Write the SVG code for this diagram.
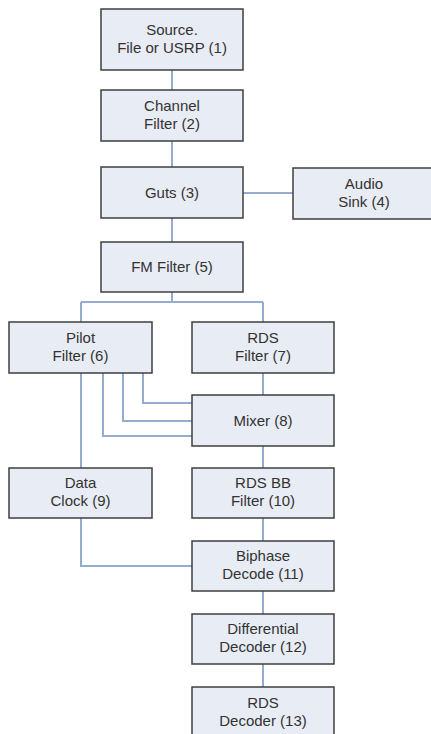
<svg xmlns="http://www.w3.org/2000/svg" width="431" height="734" viewBox="0 0 431 734">
<style>
.box{fill:#e8ecf4;stroke:#3f3f3f;stroke-width:1.5}
.t{font-family:"Liberation Sans",Arial,sans-serif;font-size:15px;fill:#333;text-anchor:middle}
.c{fill:none;stroke:#95abcf;stroke-width:2}
</style>
<rect width="431" height="734" fill="#fff"/>
<g id="connectors">
<path class="c" d="M172 70V90M172 141V167M243 193H293M172 218V242M172 292V302M81 302H263M81 302V322M263 302V322M263 373V395M143 373V403H192M123 373V421H192M103 373V436H192M81 373V468M263 446V468M263 518V541M81 518V566H192M263 591V614M263 664V687"/>
</g>
<g id="n1"><rect class="box" x="101" y="9" width="142" height="61"/><text class="t" x="172" y="34.5">Source.</text><text class="t" x="172" y="53">File or USRP (1)</text></g>
<g id="n2"><rect class="box" x="101" y="90" width="142" height="51"/><text class="t" x="172" y="110.5">Channel</text><text class="t" x="172" y="128.5">Filter (2)</text></g>
<g id="n3"><rect class="box" x="101" y="167" width="142" height="51"/><text class="t" x="172" y="197.5">Guts (3)</text></g>
<g id="n4"><rect class="box" x="293" y="168" width="142" height="51"/><text class="t" x="364" y="188.5">Audio</text><text class="t" x="364" y="206.5">Sink (4)</text></g>
<g id="n5"><rect class="box" x="101" y="242" width="142" height="50"/><text class="t" x="172" y="271.5">FM Filter (5)</text></g>
<g id="n6"><rect class="box" x="9" y="322" width="143" height="51"/><text class="t" x="80.5" y="342.5">Pilot</text><text class="t" x="80.5" y="360.5">Filter (6)</text></g>
<g id="n7"><rect class="box" x="192" y="322" width="142" height="51"/><text class="t" x="263" y="342.5">RDS</text><text class="t" x="263" y="360.5">Filter (7)</text></g>
<g id="n8"><rect class="box" x="192" y="395" width="142" height="51"/><text class="t" x="263" y="425.5">Mixer (8)</text></g>
<g id="n9"><rect class="box" x="9" y="468" width="143" height="50"/><text class="t" x="80.5" y="488">Data</text><text class="t" x="80.5" y="506">Clock (9)</text></g>
<g id="n10"><rect class="box" x="192" y="468" width="142" height="50"/><text class="t" x="263" y="488">RDS BB</text><text class="t" x="263" y="506">Filter (10)</text></g>
<g id="n11"><rect class="box" x="192" y="541" width="142" height="50"/><text class="t" x="263" y="561">Biphase</text><text class="t" x="263" y="579">Decode (11)</text></g>
<g id="n12"><rect class="box" x="192" y="614" width="142" height="50"/><text class="t" x="263" y="634">Differential</text><text class="t" x="263" y="652">Decoder (12)</text></g>
<g id="n13"><rect class="box" x="192" y="687" width="142" height="51"/><text class="t" x="263" y="707.5">RDS</text><text class="t" x="263" y="725.5">Decoder (13)</text></g>
</svg>
